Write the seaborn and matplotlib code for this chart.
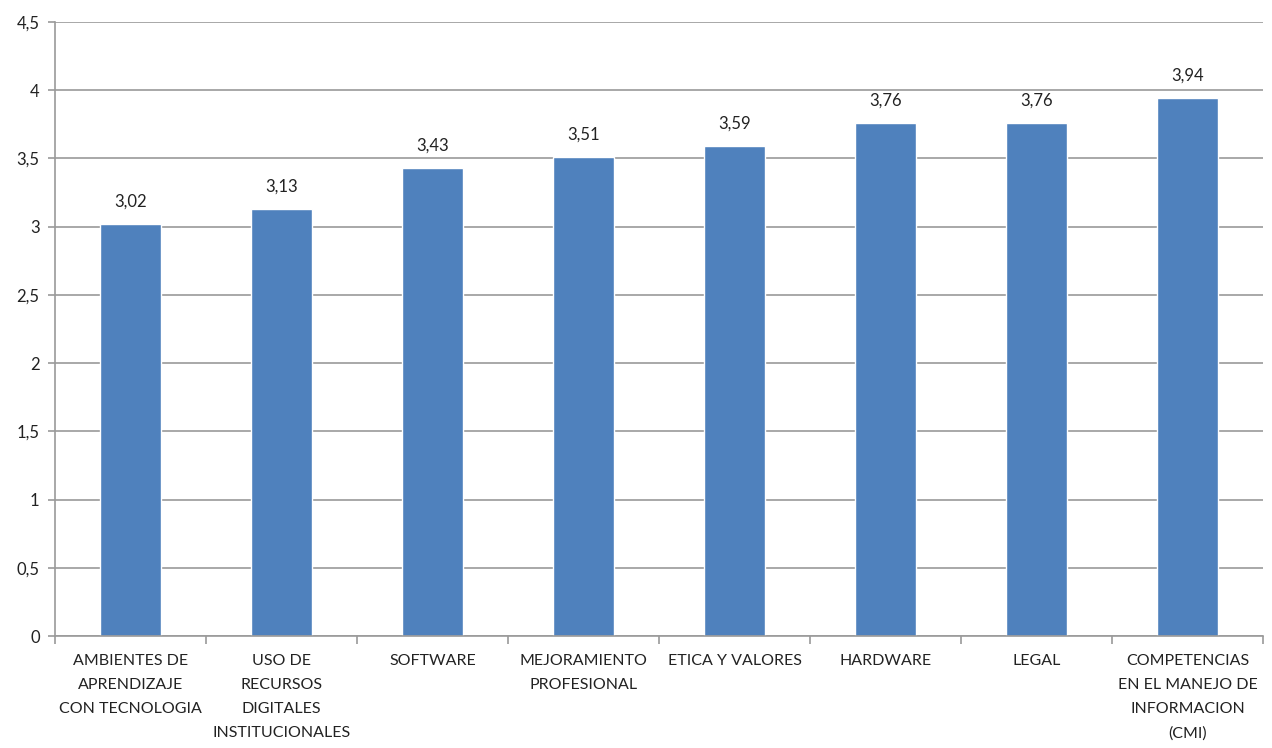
import matplotlib
matplotlib.use("Agg")
import matplotlib.pyplot as plt
import seaborn as sns
import pandas as pd

categorias = [
    "AMBIENTES DE\nAPRENDIZAJE\nCON TECNOLOGIA",
    "USO DE\nRECURSOS\nDIGITALES\nINSTITUCIONALES",
    "SOFTWARE",
    "MEJORAMIENTO\nPROFESIONAL",
    "ETICA Y VALORES",
    "HARDWARE",
    "LEGAL",
    "COMPETENCIAS\nEN EL MANEJO DE\nINFORMACION\n(CMI)",
]
valores = [3.02, 3.13, 3.43, 3.51, 3.59, 3.76, 3.76, 3.94]
yticks = [0, 0.5, 1, 1.5, 2, 2.5, 3, 3.5, 4, 4.5]

sns.set_theme(style="white")
plt.rcParams["font.family"] = ["Lato", "DejaVu Sans"]

df = pd.DataFrame({"categoria": categorias, "valor": valores})

fig = plt.figure(figsize=(12.72, 7.48), dpi=100)
ax = fig.add_axes([0.0432, 0.1497, 0.9497, 0.8209])

sns.barplot(data=df, x="categoria", y="valor", color="#4F81BD",
            saturation=1, width=0.4, ax=ax)

grid_col = "#9a9a9a"
ax.set_ylim(0, 4.5)
ax.set_xlim(-0.5, len(categorias) - 0.5)
ax.set_yticks(yticks)
ax.set_yticklabels([f"{t:g}".replace(".", ",") for t in yticks],
                   fontsize=12, color="#222222")
ax.yaxis.grid(True, color=grid_col, linewidth=1.2)
ax.set_axisbelow(True)

ax.set_xticks(range(len(categorias)))
ax.set_xticklabels(categorias, fontsize=11.5, color="#222222",
                   linespacing=1.92, va="top")
ax.tick_params(axis="x", length=0, pad=13)
ax.tick_params(axis="y", length=5, color=grid_col, width=1.2, pad=6,
               left=True)

# category separators on the x axis
ax.set_xticks([i - 0.5 for i in range(len(categorias) + 1)], minor=True)
ax.tick_params(axis="x", which="minor", length=6, color=grid_col,
               width=1.2, bottom=True)

for side in ["top", "right"]:
    ax.spines[side].set_visible(False)
for side in ["left", "bottom"]:
    ax.spines[side].set_color(grid_col)
    ax.spines[side].set_linewidth(1.2)

ax.set_xlabel("")
ax.set_ylabel("")

for i, v in enumerate(valores):
    ax.annotate(f"{v:.2f}".replace(".", ","), xy=(i, v), xytext=(0, 10.5),
                textcoords="offset points", ha="center", va="bottom",
                fontsize=12, color="#222222")

fig.savefig("out.png", dpi=100)
